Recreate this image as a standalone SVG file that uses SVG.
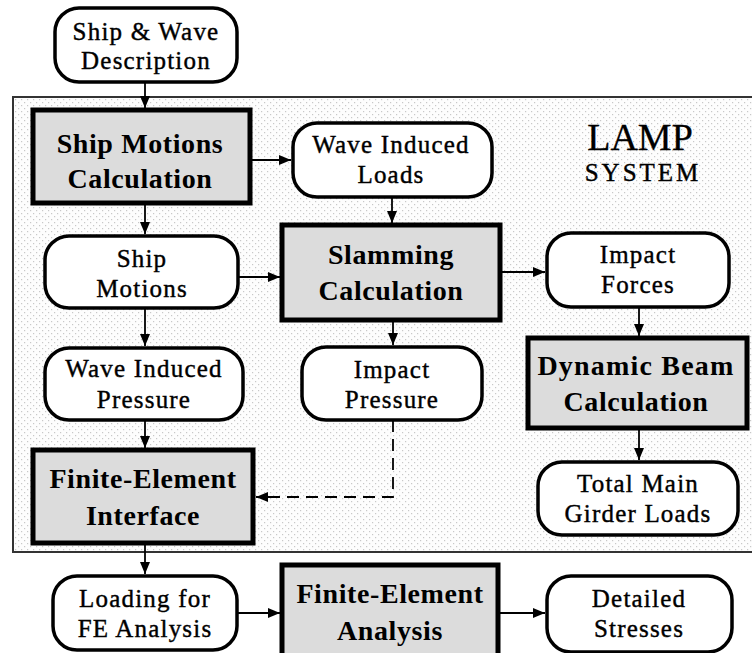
<svg xmlns="http://www.w3.org/2000/svg" width="752" height="653" viewBox="0 0 752 653">
<style>
.calc{fill:#dcdcdc;stroke:#000;stroke-width:5}
.data{fill:#fff;stroke:#000;stroke-width:3.5}
.bt{font-family:"Liberation Serif","Times New Roman",serif;font-weight:bold;font-size:28px;text-anchor:middle;fill:#000;letter-spacing:0.6px}
.rt{font-family:"Liberation Serif","Times New Roman",serif;font-size:25px;text-anchor:middle;fill:#000;letter-spacing:1.2px;stroke:#000;stroke-width:0.4}
.conn line,.conn polyline{stroke:#000;stroke-width:1.8;fill:none}
</style>
<defs>
<pattern id="dots" width="6" height="6" patternUnits="userSpaceOnUse">
<rect width="6" height="6" fill="#fdfdfd"/>
<rect x="0" y="0" width="1.2" height="1.2" fill="#c8c8c8"/>
<rect x="3" y="3" width="1.2" height="1.2" fill="#c8c8c8"/>
</pattern>
<marker id="ah" markerUnits="userSpaceOnUse" markerWidth="12" markerHeight="12" refX="12" refY="5" orient="auto">
<path d="M0,0 L12,5 L0,10 z" fill="#000"/>
</marker>
</defs>
<rect width="752" height="653" fill="#fff"/>
<g id="system">
<rect x="13" y="97" width="760" height="455" fill="url(#dots)" stroke="#333" stroke-width="2"/>
<text class="rt" x="640" y="150" style="font-size:38px;letter-spacing:0;stroke-width:0.3">LAMP</text>
<text class="rt" x="643" y="181" style="font-size:25px;letter-spacing:3px">SYSTEM</text>
</g>
<g class="conn" id="connectors">
<line x1="145" y1="82" x2="145" y2="108" marker-end="url(#ah)"/>
<line x1="250" y1="160" x2="291" y2="160" marker-end="url(#ah)"/>
<line x1="392" y1="197" x2="392" y2="223" marker-end="url(#ah)"/>
<line x1="145" y1="203" x2="145" y2="234" marker-end="url(#ah)"/>
<line x1="238" y1="277" x2="280" y2="277" marker-end="url(#ah)"/>
<line x1="500" y1="272" x2="545" y2="272" marker-end="url(#ah)"/>
<line x1="145" y1="308" x2="145" y2="346" marker-end="url(#ah)"/>
<line x1="393" y1="320" x2="393" y2="345" marker-end="url(#ah)"/>
<line x1="639" y1="307" x2="639" y2="336" marker-end="url(#ah)"/>
<line x1="145" y1="420" x2="145" y2="448" marker-end="url(#ah)"/>
<line x1="639" y1="428" x2="639" y2="460" marker-end="url(#ah)"/>
<polyline points="393,420 393,497 256,497" stroke-dasharray="12,7" marker-end="url(#ah)"/>
<line x1="145" y1="543" x2="145" y2="574" marker-end="url(#ah)"/>
<line x1="237" y1="613" x2="280" y2="613" marker-end="url(#ah)"/>
<line x1="498" y1="613" x2="545" y2="613" marker-end="url(#ah)"/>
</g>
<g id="shipwave">
<rect class="data" x="55" y="8" width="182" height="74" rx="24"/>
<text class="rt" x="146" y="40">Ship &amp; Wave</text>
<text class="rt" x="146" y="69">Description</text>
</g>
<g id="shipmotionscalc">
<rect class="calc" x="33" y="110" width="217" height="93"/>
<text class="bt" x="140" y="153">Ship Motions</text>
<text class="bt" x="140" y="188">Calculation</text>
</g>
<g id="waveloads">
<rect class="data" x="293" y="123" width="199" height="74" rx="24"/>
<text class="rt" x="391" y="153">Wave Induced</text>
<text class="rt" x="391" y="183">Loads</text>
</g>
<g id="slamming">
<rect class="calc" x="282" y="225" width="218" height="95"/>
<text class="bt" x="391" y="264">Slamming</text>
<text class="bt" x="391" y="300">Calculation</text>
</g>
<g id="impactforces">
<rect class="data" x="547" y="233" width="182" height="74" rx="24"/>
<text class="rt" x="638" y="263">Impact</text>
<text class="rt" x="638" y="293">Forces</text>
</g>
<g id="shipmotions">
<rect class="data" x="45" y="236" width="193" height="72" rx="24"/>
<text class="rt" x="142" y="267">Ship</text>
<text class="rt" x="142" y="297">Motions</text>
</g>
<g id="wavepressure">
<rect class="data" x="45" y="348" width="198" height="72" rx="24"/>
<text class="rt" x="144" y="377">Wave Induced</text>
<text class="rt" x="144" y="408">Pressure</text>
</g>
<g id="impactpressure">
<rect class="data" x="302" y="347" width="180" height="73" rx="24"/>
<text class="rt" x="392" y="378">Impact</text>
<text class="rt" x="392" y="408">Pressure</text>
</g>
<g id="dynamicbeam">
<rect class="calc" x="528" y="338" width="219" height="90"/>
<text class="bt" x="636" y="375" style="letter-spacing:1.2px">Dynamic Beam</text>
<text class="bt" x="636" y="411">Calculation</text>
</g>
<g id="girderloads">
<rect class="data" x="538" y="462" width="200" height="73" rx="24"/>
<text class="rt" x="638" y="492">Total Main</text>
<text class="rt" x="638" y="522">Girder Loads</text>
</g>
<g id="feinterface">
<rect class="calc" x="33" y="450" width="220" height="93"/>
<text class="bt" x="143" y="488">Finite-Element</text>
<text class="bt" x="143" y="525">Interface</text>
</g>
<g id="loadingfe">
<rect class="data" x="53" y="576" width="184" height="74" rx="24"/>
<text class="rt" x="145" y="607">Loading for</text>
<text class="rt" x="145" y="637">FE Analysis</text>
</g>
<g id="feanalysis">
<rect class="calc" x="282" y="565" width="216" height="100"/>
<text class="bt" x="390" y="603">Finite-Element</text>
<text class="bt" x="390" y="640">Analysis</text>
</g>
<g id="stresses">
<rect class="data" x="547" y="576" width="185" height="76" rx="24"/>
<text class="rt" x="639" y="607">Detailed</text>
<text class="rt" x="639" y="637">Stresses</text>
</g>
</svg>
